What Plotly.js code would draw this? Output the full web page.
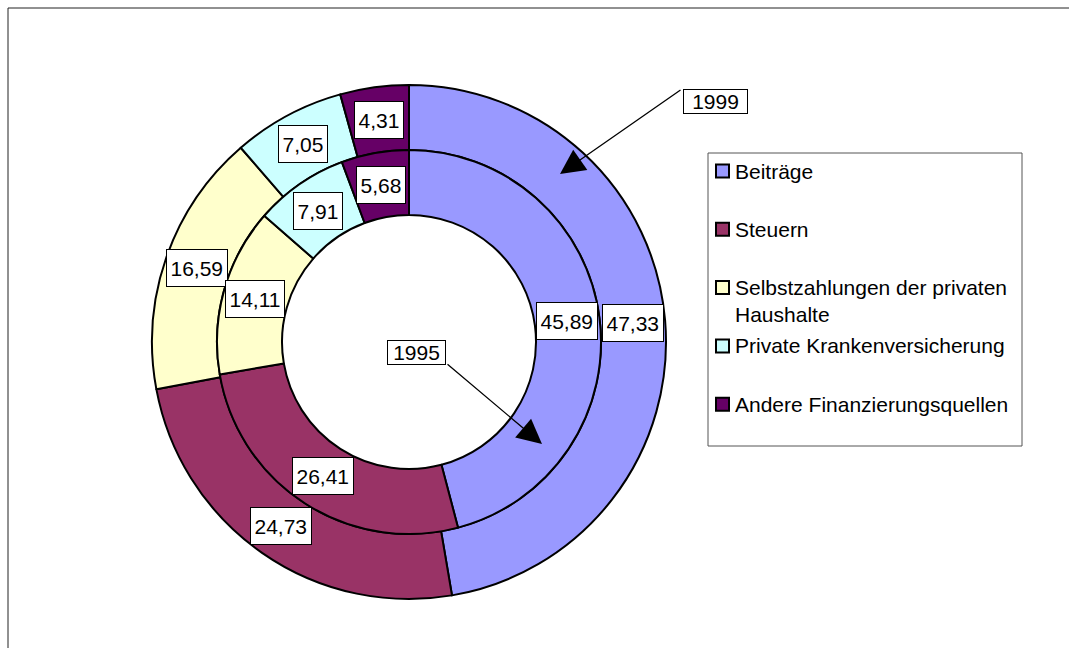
<!DOCTYPE html>
<html>
<head>
<meta charset="utf-8">
<script src="https://cdn.plot.ly/plotly-3.0.1.min.js"></script>
<style>
  html, body { margin: 0; padding: 0; background: #ffffff; }
  #chart { width: 1069px; height: 648px; }
</style>
</head>
<body>
<div id="chart"></div>
<script>
// Finanzierungsquellen (Anteile in %), Ring innen 1995, Ring außen 1999
const categories = [
  "Beiträge",
  "Steuern",
  "Selbstzahlungen der privaten Haushalte",
  "Private Krankenversicherung",
  "Andere Finanzierungsquellen"
];
const values1995 = [45.89, 26.41, 14.11, 7.91, 5.68];
const values1999 = [47.33, 24.73, 16.59, 7.05, 4.31];
const sliceColors = ["#9999FF", "#993366", "#FFFFCC", "#CCFFFF", "#660066"];
const yearInner = "1995";
const yearOuter = "1999";

// Geometry (pixels)
const W = 1069, H = 648;
const CX = 409, CY = 342;        // ring centre
const R_OUT = 257;               // outer edge of 1999 ring
const R_MID = 192;               // border between the rings
const R_HOLE = 127;              // inner hole
const FONT = "Liberation Sans, Arial, sans-serif";
const FS = 21;

const px = x => x / W;
const py = y => 1 - y / H;

function ringDomain(r) {
  return { x: [px(CX - r), px(CX + r)], y: [py(CY + r), py(CY - r)] };
}

function fmt(v) { return v.toFixed(2).replace(".", ","); }

const pieCommon = {
  type: "pie",
  labels: categories,
  sort: false,
  direction: "clockwise",
  rotation: 0,
  textinfo: "none",
  hoverinfo: "skip",
  showlegend: false,
  marker: { colors: sliceColors, line: { color: "#000000", width: 2 } }
};

const traces = [
  Object.assign({}, pieCommon, {
    name: yearOuter,
    values: values1999,
    hole: R_MID / R_OUT,
    domain: ringDomain(R_OUT)
  }),
  Object.assign({}, pieCommon, {
    name: yearInner,
    values: values1995,
    hole: R_HOLE / R_MID,
    domain: ringDomain(R_MID)
  })
];

const annotations = [];
const shapes = [];

// value labels, placed in the middle of each ring segment
function addRingLabels(vals, rIn, rOut) {
  const total = vals.reduce((a, b) => a + b, 0);
  const rm = (rIn + rOut) / 2;
  let cum = 0;
  vals.forEach(v => {
    const mid = (cum + v / 2) / total * 2 * Math.PI;
    cum += v;
    const x = CX + rm * Math.sin(mid);
    const y = CY - rm * Math.cos(mid);
    annotations.push({
      xref: "paper", yref: "paper", x: px(x), y: py(y),
      xanchor: "center", yanchor: "middle",
      text: fmt(v), showarrow: false,
      font: { family: FONT, size: FS, color: "#000000" },
      bgcolor: "#ffffff", bordercolor: "#000000", borderwidth: 1,
      borderpad: 3.5, height: 29
    });
  });
}
addRingLabels(values1999, R_MID, R_OUT);
addRingLabels(values1995, R_HOLE, R_MID);

// year call-outs with arrows
function yearCallout(label, boxX, boxY, boxW, tail, tip) {
  annotations.push({
    xref: "paper", yref: "paper", x: px(boxX), y: py(boxY),
    xanchor: "center", yanchor: "middle", text: label, showarrow: false,
    font: { family: FONT, size: FS, color: "#000000" },
    bgcolor: "#ffffff", bordercolor: "#000000", borderwidth: 1,
    borderpad: 0, width: boxW, height: 23
  });
  annotations.push({
    xref: "paper", yref: "paper", x: px(tip[0]), y: py(tip[1]),
    axref: "pixel", ayref: "pixel",
    ax: tail[0] - tip[0], ay: tail[1] - tip[1],
    text: "", showarrow: true,
    arrowhead: 2, arrowsize: 3.8, arrowwidth: 1.3, arrowcolor: "#000000"
  });
}
yearCallout(yearOuter, 715, 101, 63, [682, 89], [560, 174]);
yearCallout(yearInner, 416, 352, 57, [446, 363], [542, 444]);

// legend box
shapes.push({
  type: "rect", xref: "paper", yref: "paper",
  x0: px(708), x1: px(1022), y0: py(446), y1: py(153),
  line: { color: "#555555", width: 1 }, fillcolor: "rgba(0,0,0,0)"
});

function wrap(s, maxLen) {
  const words = s.split(" ");
  const lines = [];
  let cur = "";
  words.forEach(w => {
    const next = cur ? cur + " " + w : w;
    if (next.length > maxLen && cur) { lines.push(cur); cur = w; }
    else cur = next;
  });
  if (cur) lines.push(cur);
  return lines.join("<br>");
}

const LEG_Y0 = 171, LEG_STEP = 58.3;
categories.forEach((c, i) => {
  const ry = LEG_Y0 + i * LEG_STEP;
  shapes.push({
    type: "rect", xref: "paper", yref: "paper",
    x0: px(716), x1: px(729), y0: py(ry + 6.5), y1: py(ry - 6.5),
    fillcolor: sliceColors[i], line: { color: "#000000", width: 2 }
  });
  annotations.push({
    xref: "paper", yref: "paper", x: px(734), y: py(ry - 12.5),
    xanchor: "left", yanchor: "top", align: "left",
    text: wrap(c, 28), showarrow: false, borderpad: 0,
    font: { family: FONT, size: FS, color: "#000000" }
  });
});

// outer chart frame
shapes.push({
  type: "rect", xref: "paper", yref: "paper",
  x0: px(8), x1: px(W + 20), y0: py(H + 20), y1: py(8),
  line: { color: "#222222", width: 1 }, fillcolor: "rgba(0,0,0,0)", layer: "below"
});

const layout = {
  width: W, height: H,
  margin: { l: 0, r: 0, t: 0, b: 0 },
  paper_bgcolor: "#ffffff",
  showlegend: false,
  annotations: annotations,
  shapes: shapes,
  font: { family: FONT, size: FS, color: "#000000" }
};

Plotly.newPlot("chart", traces, layout, { displayModeBar: false, staticPlot: true });
</script>
</body>
</html>
